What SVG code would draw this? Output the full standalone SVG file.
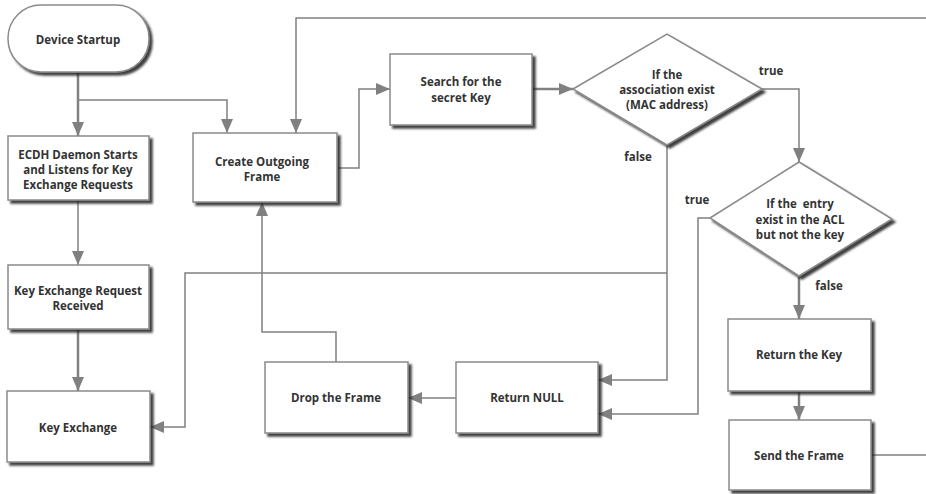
<svg xmlns="http://www.w3.org/2000/svg" width="926" height="494" viewBox="0 0 926 494">
<style>
.box{fill:#fff;stroke:#8a8a8a;stroke-width:1.5;filter:url(#sh)}
.t{font-family:"Open Sans","Noto Sans",sans-serif;font-weight:bold;font-size:11.5px;fill:#333;text-anchor:middle}
.c{fill:none;stroke:#808080;stroke-width:1.5}
.ct{fill:none;stroke:#808080;stroke-width:2.5}
</style>
<defs>
<filter id="sh" x="-10%" y="-10%" width="130%" height="130%">
<feDropShadow dx="3" dy="3" stdDeviation="1.2" flood-color="#222" flood-opacity="0.85"/>
</filter>
<marker id="a" markerUnits="userSpaceOnUse" markerWidth="14" markerHeight="12" refX="14" refY="6" orient="auto">
<path d="M0,0 L14,6 L0,12 Z" fill="#808080"/>
</marker>
</defs>
<g id="connectors">
<path class="ct" d="M78,72 V136" marker-end="url(#a)"/>
<path class="c" d="M78,100 H227 V133" marker-end="url(#a)"/>
<path class="c" d="M926,18 H296 V133" marker-end="url(#a)"/>
<path class="c" d="M337,168 H359 V89 H390" marker-end="url(#a)"/>
<path class="ct" d="M532,89 H573" marker-end="url(#a)"/>
<path class="c" d="M762,89 H799 V162" marker-end="url(#a)"/>
<path class="c" d="M667,145 V380 H598" marker-end="url(#a)"/>
<path class="c" d="M667,273 H185 V427 H150" marker-end="url(#a)"/>
<path class="c" d="M710,218 H698 V414 H598" marker-end="url(#a)"/>
<path class="ct" d="M799,276 V319" marker-end="url(#a)"/>
<path class="ct" d="M799,391 V420" marker-end="url(#a)"/>
<path class="c" d="M871,455 H926"/>
<path class="c" d="M456,398 H408" marker-end="url(#a)"/>
<path class="c" d="M336,362 V332 H262 V202" marker-end="url(#a)"/>
<path class="c" d="M78,200 V265" marker-end="url(#a)"/>
<path class="ct" d="M78,329 V391" marker-end="url(#a)"/>
</g>
<g id="device-startup">
<rect class="box" x="8" y="5" width="141" height="67" rx="33" ry="33"/>
<text class="t" x="78" y="44">Device Startup</text>
</g>
<g id="ecdh">
<rect class="box" x="8" y="136" width="141" height="64"/>
<text class="t" x="78" y="159">ECDH Daemon Starts</text>
<text class="t" x="78" y="174">and Listens for Key</text>
<text class="t" x="78" y="189">Exchange Requests</text>
</g>
<g id="kerr">
<rect class="box" x="8" y="265" width="141" height="64"/>
<text class="t" x="78" y="295">Key Exchange Request</text>
<text class="t" x="78" y="310">Received</text>
</g>
<g id="key-exchange">
<rect class="box" x="7" y="391" width="143" height="71"/>
<text class="t" x="78" y="432">Key Exchange</text>
</g>
<g id="create-outgoing">
<rect class="box" x="193" y="133" width="144" height="69"/>
<text class="t" x="262" y="166">Create Outgoing</text>
<text class="t" x="262" y="181">Frame</text>
</g>
<g id="search">
<rect class="box" x="390" y="54" width="142" height="71"/>
<text class="t" x="461" y="86">Search for the</text>
<text class="t" x="461" y="102">secret Key</text>
</g>
<g id="decision-association">
<polygon class="box" points="573,89 667,34 762,89 667,145"/>
<text class="t" x="667" y="79">If the</text>
<text class="t" x="667" y="94">association exist</text>
<text class="t" x="667" y="109">(MAC address)</text>
</g>
<g id="decision-entry">
<polygon class="box" points="710,218 799,162 892,219 799,276"/>
<text class="t" x="800" y="208" style="white-space:pre">If the  entry</text>
<text class="t" x="800" y="224">exist in the ACL</text>
<text class="t" x="800" y="239">but not the key</text>
</g>
<g id="return-null">
<rect class="box" x="456" y="362" width="142" height="71"/>
<text class="t" x="527" y="402">Return NULL</text>
</g>
<g id="drop-frame">
<rect class="box" x="265" y="362" width="143" height="71"/>
<text class="t" x="336" y="402">Drop the Frame</text>
</g>
<g id="return-key">
<rect class="box" x="728" y="319" width="143" height="72"/>
<text class="t" x="799" y="359">Return the Key</text>
</g>
<g id="send-frame">
<rect class="box" x="729" y="420" width="142" height="70"/>
<text class="t" x="799" y="460">Send the Frame</text>
</g>
<g id="labels">
<text class="t" x="771" y="75">true</text>
<text class="t" x="638" y="161">false</text>
<text class="t" x="697" y="204">true</text>
<text class="t" x="829" y="290">false</text>
</g>
</svg>
